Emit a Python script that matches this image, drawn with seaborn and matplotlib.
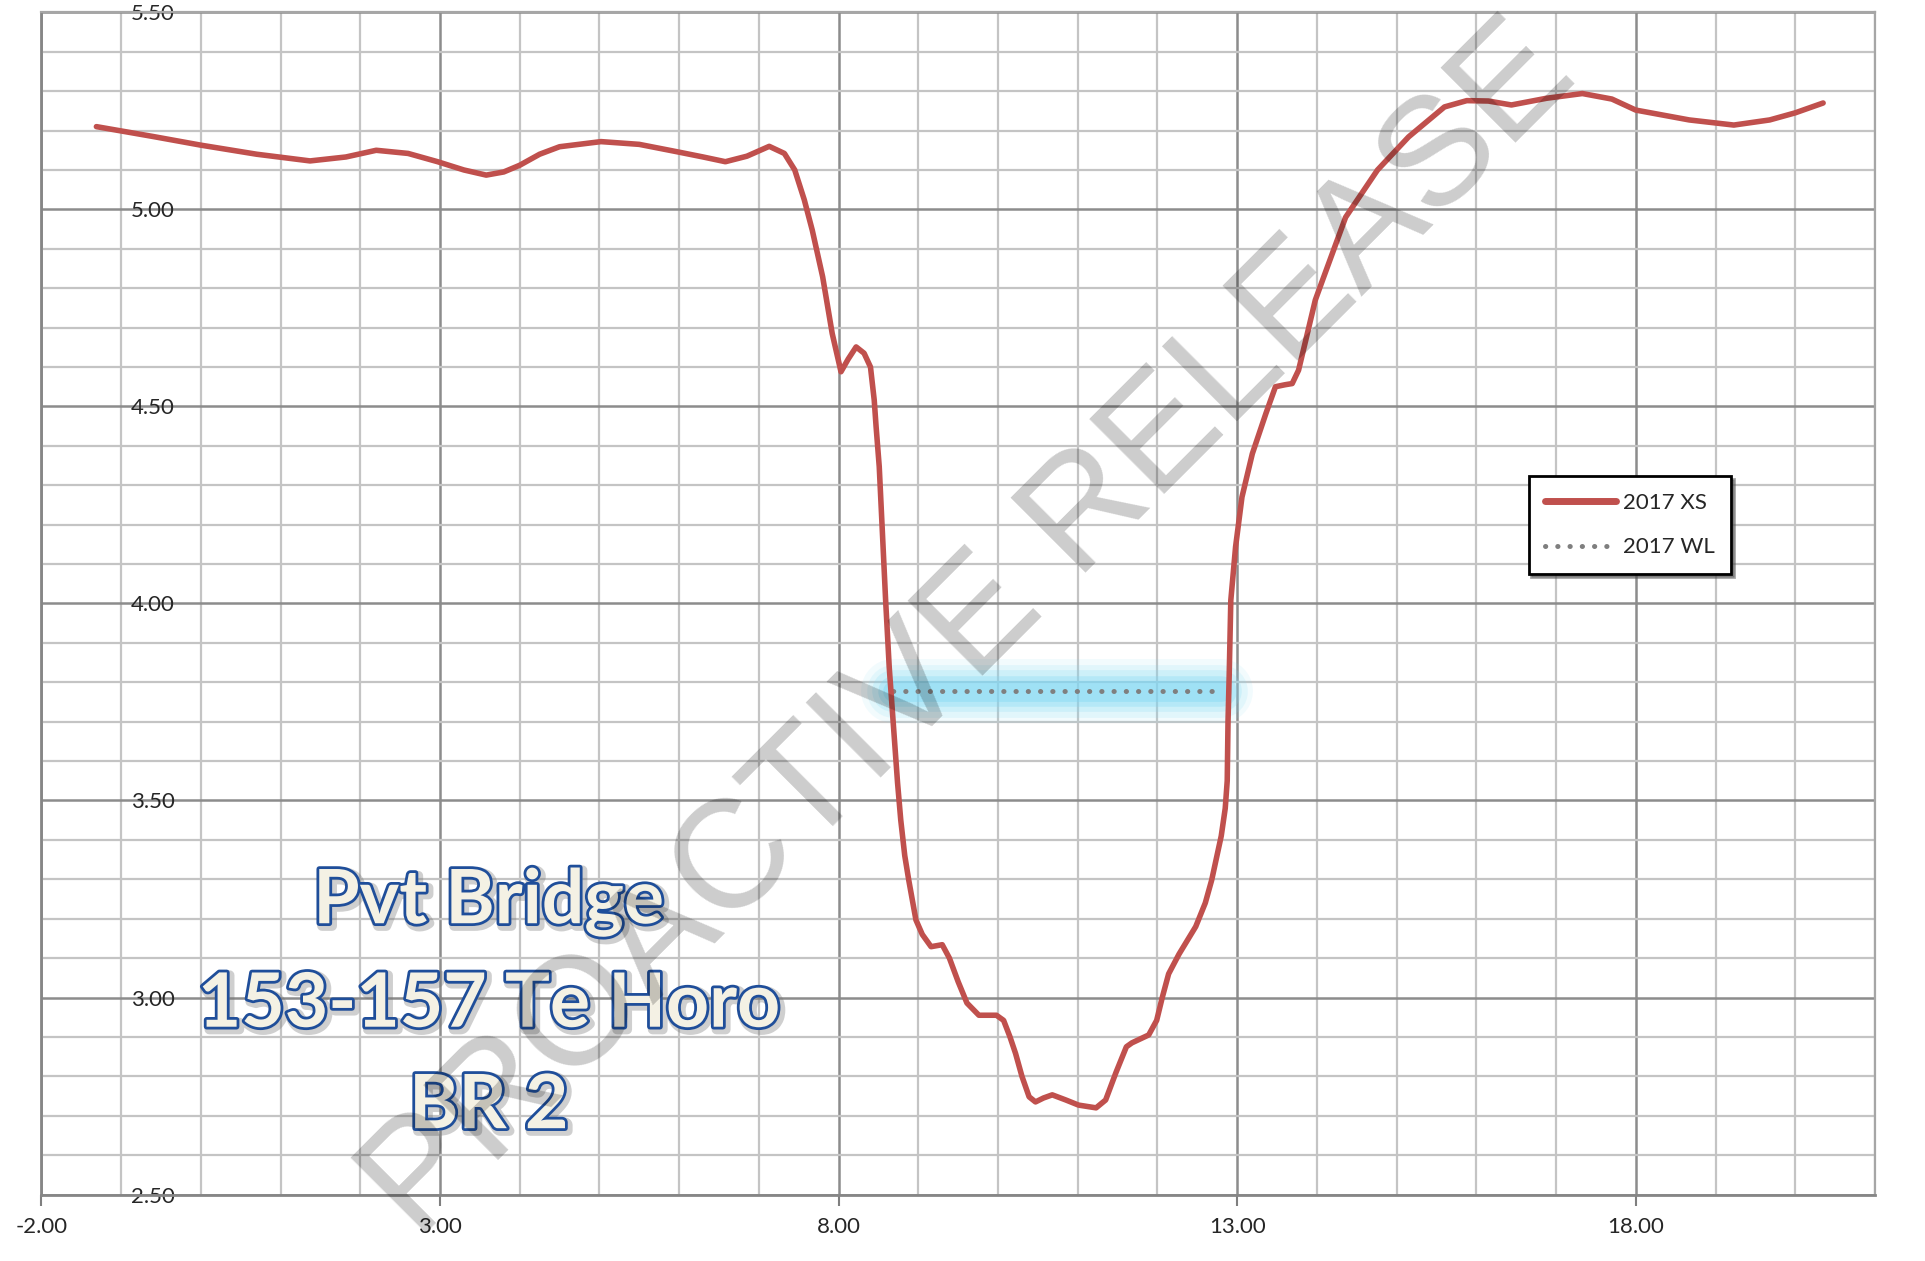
import numpy as np
import pandas as pd
import matplotlib
matplotlib.use("Agg")
import matplotlib.pyplot as plt
import matplotlib.patheffects as pe
from matplotlib.lines import Line2D
import seaborn as sns

# cross-section (chainage, level)
xs_x = [-1.31, -0.6, 0.0, 0.7, 1.37, 1.82, 2.20, 2.6, 2.97, 3.3, 3.58, 3.8, 4.0, 4.25,
        4.50, 5.02, 5.5, 5.98, 6.3, 6.58, 6.85, 7.13, 7.32, 7.45, 7.57, 7.67, 7.80,
        7.92, 8.03, 8.12, 8.22, 8.32, 8.40, 8.447, 8.47, 8.51, 8.55, 8.59, 8.635, 8.68,
        8.74, 8.78, 8.83, 8.88, 8.97, 9.05, 9.16, 9.30, 9.39, 9.5, 9.61, 9.76, 9.98,
        10.07, 10.15, 10.22, 10.30, 10.39, 10.47, 10.57, 10.68, 10.85, 11.01, 11.23,
        11.35, 11.48, 11.61, 11.68, 11.89, 11.99, 12.06, 12.14, 12.27, 12.48, 12.6,
        12.68, 12.80, 12.85, 12.875, 12.885, 12.90, 12.92, 12.98, 13.06, 13.19, 13.36,
        13.48, 13.60, 13.69, 13.77, 13.86, 13.98, 14.07, 14.36, 14.76, 15.15, 15.60,
        15.88, 16.15, 16.44, 16.88, 17.33, 17.7, 18.0, 18.67, 19.23, 19.68, 20.0, 20.35]
xs_y = [5.21, 5.185, 5.163, 5.14, 5.123, 5.133, 5.15, 5.142, 5.121, 5.10, 5.087, 5.095,
        5.112, 5.14, 5.159, 5.172, 5.165, 5.146, 5.133, 5.121, 5.135, 5.16, 5.142,
        5.10, 5.024, 4.947, 4.829, 4.685, 4.588, 4.62, 4.651, 4.635, 4.60, 4.516,
        4.45, 4.347, 4.178, 4.008, 3.839, 3.712, 3.544, 3.45, 3.36, 3.298, 3.197, 3.16,
        3.129, 3.134, 3.10, 3.04, 2.986, 2.955, 2.955, 2.942, 2.90, 2.858, 2.80, 2.748,
        2.735, 2.745, 2.753, 2.74, 2.727, 2.72, 2.74, 2.81, 2.875, 2.885, 2.905, 2.942,
        3.00, 3.06, 3.11, 3.18, 3.24, 3.298, 3.41, 3.48, 3.55, 3.70, 3.82, 4.008,
        4.144, 4.27, 4.38, 4.482, 4.55, 4.555, 4.558, 4.592, 4.668, 4.77, 4.82, 4.98,
        5.10, 5.184, 5.26, 5.276, 5.275, 5.265, 5.282, 5.294, 5.28, 5.252, 5.227, 5.214,
        5.227, 5.245, 5.27]

# water level
wl_x = [8.68, 12.80]
wl_y = [3.777, 3.777]

x_ticks = [-2, 3, 8, 13, 18]
y_ticks = [2.5, 3.0, 3.5, 4.0, 4.5, 5.0, 5.5]

xs = pd.DataFrame({"x": xs_x, "y": xs_y})
wl = pd.DataFrame({"x": wl_x, "y": wl_y})

sns.set_style("white")
plt.rcParams["font.family"] = ["Lato", "DejaVu Sans"]

fig = plt.figure(figsize=(19.25, 12.61), dpi=100)
ax = fig.add_axes([0.0215, 0.0527, 0.9525, 0.9375])

# grid
ax.set_xticks(np.arange(-2, 22, 1), minor=True)
ax.set_yticks(np.arange(2.5, 5.51, 0.1), minor=True)
ax.grid(which="minor", color="#c4c4c4", linewidth=1.6, zorder=0)
ax.grid(which="major", color="#8c8c8c", linewidth=1.8, zorder=0)
ax.set_axisbelow(True)

# blue glow behind the water level
for w, a in [(46, 0.10), (38, 0.14), (30, 0.2), (22, 0.3), (15, 0.4)]:
    ax.plot(wl["x"], wl["y"], color="#80d8f4", linewidth=w, alpha=a,
            solid_capstyle="round", zorder=2)

sns.lineplot(data=wl, x="x", y="y", ax=ax, color="#7f7f7f", linewidth=3.6,
             linestyle=(0, (0.05, 2.4)), dash_capstyle="round",
             estimator=None, sort=False, zorder=3)
sns.lineplot(data=xs, x="x", y="y", ax=ax, color="#c0504d", linewidth=4.0,
             estimator=None, sort=False, zorder=4)

ax.set_xlim(-2, 21)
ax.set_ylim(2.5, 5.5)
ax.set_xticks(x_ticks)
ax.set_xticklabels([f"{v:.2f}" for v in x_ticks])
ax.set_yticks(y_ticks)
ax.set_yticklabels([f"{v:.2f}" for v in y_ticks])
ax.set_xlabel("")
ax.set_ylabel("")
ax.tick_params(axis="x", which="major", direction="out", length=8, width=1.5,
               color="#7f7f7f", labelsize=16, pad=8, bottom=True)
ax.tick_params(axis="x", which="minor", length=0)
ax.tick_params(axis="y", which="both", length=0, labelsize=16, pad=-96)

for side in ["left", "bottom"]:
    ax.spines[side].set_color("#868686")
    ax.spines[side].set_linewidth(2)
for side in ["top", "right"]:
    ax.spines[side].set_color("#a6a6a6")
    ax.spines[side].set_linewidth(1.6)

handles = [
    Line2D([], [], color="#c0504d", linewidth=5, solid_capstyle="round"),
    Line2D([], [], color="#7f7f7f", linewidth=3.6, linestyle=(0, (0.05, 2.4)),
           dash_capstyle="round"),
]
leg = ax.legend(handles, ["2017 XS", "2017 WL"], loc="upper left",
                bbox_to_anchor=(0.805, 0.617), fontsize=16, frameon=True,
                fancybox=False, shadow=True, handlelength=3.2,
                handletextpad=0.3, borderpad=0.75, labelspacing=1.1)
leg.get_frame().set_edgecolor("black")
leg.get_frame().set_linewidth(2)
leg.set_zorder(6)

# site label
ax.text(0.244, 0.161, "Pvt Bridge\n153-157 Te Horo\nBR 2", transform=ax.transAxes,
        ha="center", va="center", multialignment="center", fontsize=54,
        fontweight="bold", color="#f4f1e4", linespacing=1.58, zorder=7,
        path_effects=[pe.Stroke(linewidth=7, foreground="#777777", alpha=0.35,
                                offset=(2, -2)),
                      pe.Stroke(linewidth=4, foreground="#1f4e9a"),
                      pe.Normal()])

# watermark
fig.text(0.504, 0.499, "PROACTIVE RELEASE", rotation=45, rotation_mode="anchor",
         ha="center", va="center", fontsize=111, family="Liberation Sans",
         color="black", alpha=0.2, zorder=10)

fig.savefig("out.png", dpi=100, facecolor="white")
